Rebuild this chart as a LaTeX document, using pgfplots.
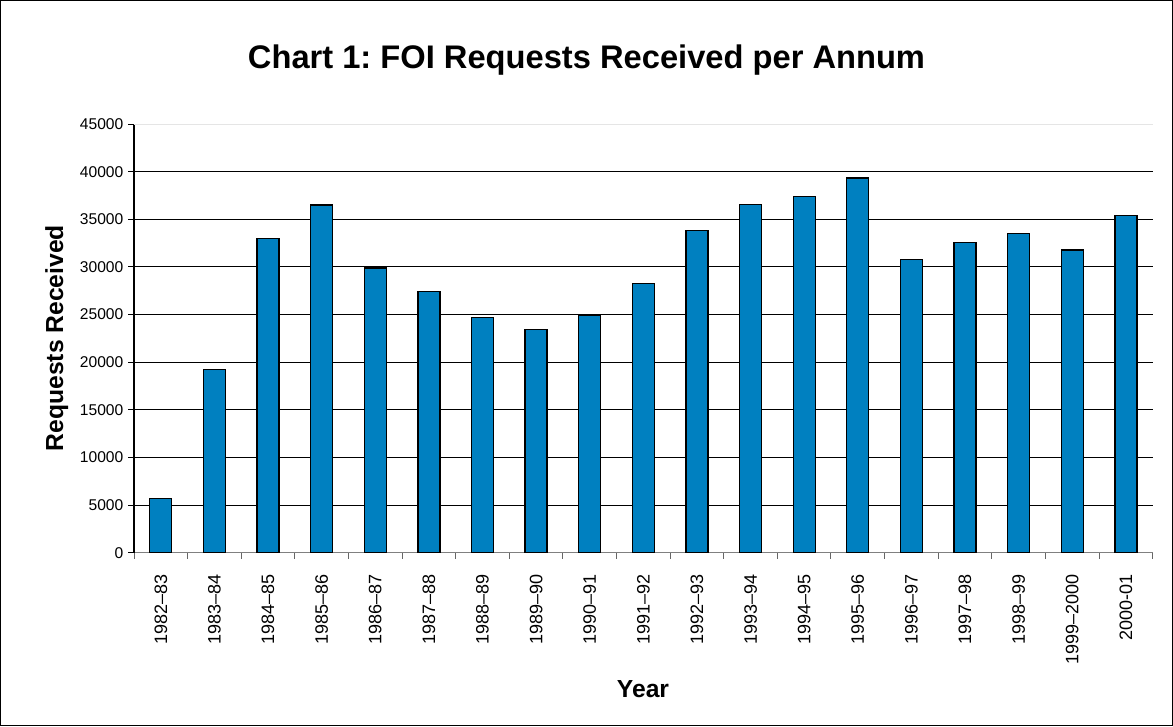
\documentclass[border=0pt]{standalone}
\usepackage{pgfplots}
\pgfplotsset{compat=1.18}
\usepackage{fontspec}
\setmainfont{Liberation Sans}
\frenchspacing
\definecolor{barblue}{RGB}{0,128,192}
\begin{document}
\begin{tikzpicture}
\useasboundingbox (0,0) rectangle (879.75pt,-544.5pt);
\draw[line width=1pt] (0.5pt,-0.5pt) rectangle (879.25pt,-544pt);
\begin{axis}[
  at={(100.5pt,-414.5pt)}, anchor=south west,
  scale only axis, width=764pt, height=321.5pt,
  xmin=-0.5, xmax=18.5, ymin=0, ymax=45000,
  axis x line*=bottom, axis y line*=left,
  x axis line style={draw=black!50, line width=1pt},
  y axis line style={draw=black, line width=1pt},
  ybar, bar width=16.5pt,
  ytick={0,5000,...,40000},
  extra y ticks={45000},
  extra y tick style={major grid style={draw=black!10, line width=0.75pt}},
  ymajorgrids, major grid style={draw=black, line width=0.75pt},
  scaled y ticks=false,
  /pgf/number format/fixed,
  /pgf/number format/set thousands separator={},
  /pgf/number format/assume math mode=true,
  yticklabel style={font=\fontsize{11.7}{12}\selectfont},
  tick align=outside, major tick length=4.5pt, minor tick length=4.5pt,
  ytick style={draw=black, line width=0.75pt},
  xtick={0,...,18},
  major x tick style={draw=none},
  minor xtick={-0.5,0.5,...,18.5},
  minor x tick style={draw=black!60, line width=0.75pt},
  xticklabels={1982–83,1983–84,1984–85,1985–86,1986–87,1987–88,1988–89,1989–90,1990–91,1991–92,1992–93,1993–94,1994–95,1995–96,1996–97,1997–98,1998–99,1999–2000,2000-01},
  xticklabel style={yshift=-8pt, rotate=90, anchor=east, font=\fontsize{13.5}{14}\selectfont},
]
\addplot[fill=barblue, draw=black, line width=1pt] coordinates {
 (0,5700) (1,19200) (2,33000) (3,36500) (4,29900) (5,27450) (6,24670)
 (7,23450) (8,24920) (9,28240) (10,33800) (11,36530) (12,37370) (13,39330)
 (14,30800) (15,32580) (16,33490) (17,31780) (18,35420)};
\end{axis}
\node[anchor=base, font=\bfseries\fontsize{24.5}{28}\selectfont] at (439.9pt,-51pt) {Chart 1: FOI Requests Received per Annum};
\node[anchor=base, rotate=90, font=\bfseries\fontsize{18.5}{20}\selectfont] at (47.25pt,-253.5pt) {Requests Received};
\node[anchor=base, font=\bfseries\fontsize{18.5}{20}\selectfont] at (482.25pt,-522.75pt) {Year};
\end{tikzpicture}
\end{document}
